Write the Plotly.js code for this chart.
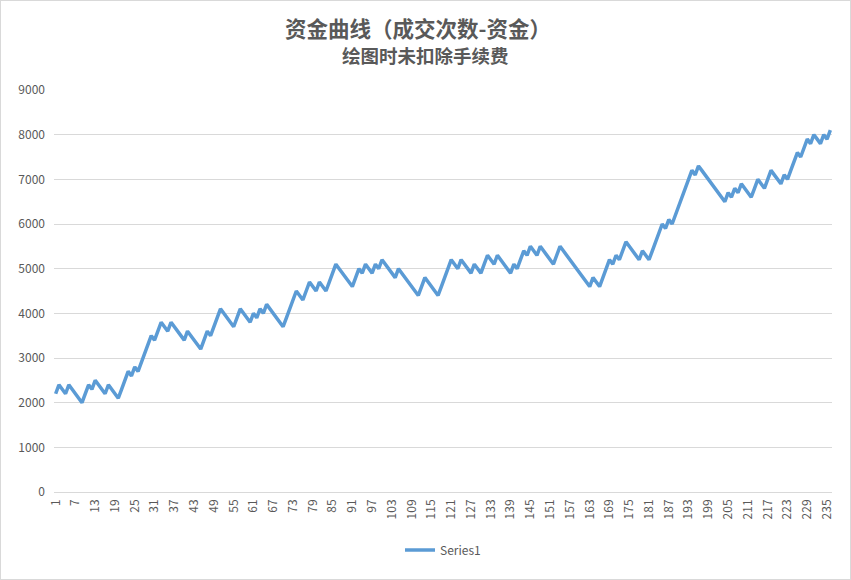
<html>
<head>
<meta charset="utf-8">
<script src="https://cdn.plot.ly/plotly-3.0.1.min.js"></script>
<style>
  body { margin: 0; background: #fff; }
  #chart { width: 849px; height: 578px; border: 1px solid #d9d9d9; }
</style>
</head>
<body>
<div id="chart"></div>
<script>
// balance after each trade (wins +200, losses -100)
let tradeNo = [];
let balance = [
  2200,2400,2300,2200,2400,2300,2200,2100,2000,2200,
  2400,2300,2500,2400,2300,2200,2400,2300,2200,2100,
  2300,2500,2700,2600,2800,2700,2900,3100,3300,3500,
  3400,3600,3800,3700,3600,3800,3700,3600,3500,3400,
  3600,3500,3400,3300,3200,3400,3600,3500,3700,3900,
  4100,4000,3900,3800,3700,3900,4100,4000,3900,3800,
  4000,3900,4100,4000,4200,4100,4000,3900,3800,3700,
  3900,4100,4300,4500,4400,4300,4500,4700,4600,4500,
  4700,4600,4500,4700,4900,5100,5000,4900,4800,4700,
  4600,4800,5000,4900,5100,5000,4900,5100,5000,5200,
  5100,5000,4900,4800,5000,4900,4800,4700,4600,4500,
  4400,4600,4800,4700,4600,4500,4400,4600,4800,5000,
  5200,5100,5000,5200,5100,5000,4900,5100,5000,4900,
  5100,5300,5200,5100,5300,5200,5100,5000,4900,5100,
  5000,5200,5400,5300,5500,5400,5300,5500,5400,5300,
  5200,5100,5300,5500,5400,5300,5200,5100,5000,4900,
  4800,4700,4600,4800,4700,4600,4800,5000,5200,5100,
  5300,5200,5400,5600,5500,5400,5300,5200,5400,5300,
  5200,5400,5600,5800,6000,5900,6100,6000,6200,6400,
  6600,6800,7000,7200,7100,7300,7200,7100,7000,6900,
  6800,6700,6600,6500,6700,6600,6800,6700,6900,6800,
  6700,6600,6800,7000,6900,6800,7000,7200,7100,7000,
  6900,7100,7000,7200,7400,7600,7500,7700,7900,7800,
  8000,7900,7800,8000,7900,8100
];
for (let i = 1; i <= balance.length; i++) tradeNo.push(i);

let xTicks = [];
for (let t = 1; t <= balance.length; t += 6) xTicks.push(t);
let yTicks = [0,1000,2000,3000,4000,5000,6000,7000,8000,9000];

let font = "'Noto Sans CJK SC', 'Noto Sans', sans-serif";

let data = [{
  x: tradeNo,
  y: balance,
  type: 'scatter',
  mode: 'lines',
  name: 'Series1',
  line: { color: '#5b9bd5', width: 3.5 }
}];

let layout = {
  width: 849,
  height: 578,
  margin: { l: 53, r: 18, t: 89, b: 87 },
  paper_bgcolor: '#fff',
  plot_bgcolor: '#fff',
  font: { family: font, color: '#595959', size: 12 },
  title: {
    text: '资金曲线（成交次数-资金）',
    font: { family: font, size: 21.5, color: '#595959', weight: 'bold' },
    xref: 'container', x: 417 / 849, xanchor: 'center',
    yref: 'container', y: 1 - 28 / 578, yanchor: 'middle',
    automargin: false
  },
  annotations: [{
    text: '<b>绘图时未扣除手续费</b>',
    xref: 'paper', yref: 'paper',
    x: (424 - 53) / 778, xanchor: 'center',
    y: 1 + 35 / 402, yanchor: 'middle',
    showarrow: false,
    font: { family: font, size: 18.5, color: '#595959' }
  }],
  xaxis: {
    range: [0.5, balance.length + 0.5],
    tickvals: xTicks,
    ticktext: xTicks.map(String),
    tickangle: -90,
    ticks: '',
    ticklabelstandoff: 4,
    automargin: false,
    showgrid: false,
    zeroline: false,
    showline: false,
    tickfont: { size: 12, color: '#595959' }
  },
  yaxis: {
    range: [0, 9000],
    tickvals: yTicks,
    ticks: '',
    ticklabelstandoff: 8,
    automargin: false,
    showgrid: true,
    gridcolor: '#d9d9d9',
    gridwidth: 1,
    zeroline: true,
    zerolinecolor: '#d9d9d9',
    zerolinewidth: 1,
    showline: false,
    tickfont: { size: 12, color: '#595959' }
  },
  showlegend: true,
  legend: {
    orientation: 'h',
    x: 0.5, xanchor: 'center',
    y: -58 / 402, yanchor: 'middle',
    font: { size: 12, color: '#595959' }
  }
};

Plotly.newPlot('chart', data, layout, { displayModeBar: false, staticPlot: true });
</script>
</body>
</html>
